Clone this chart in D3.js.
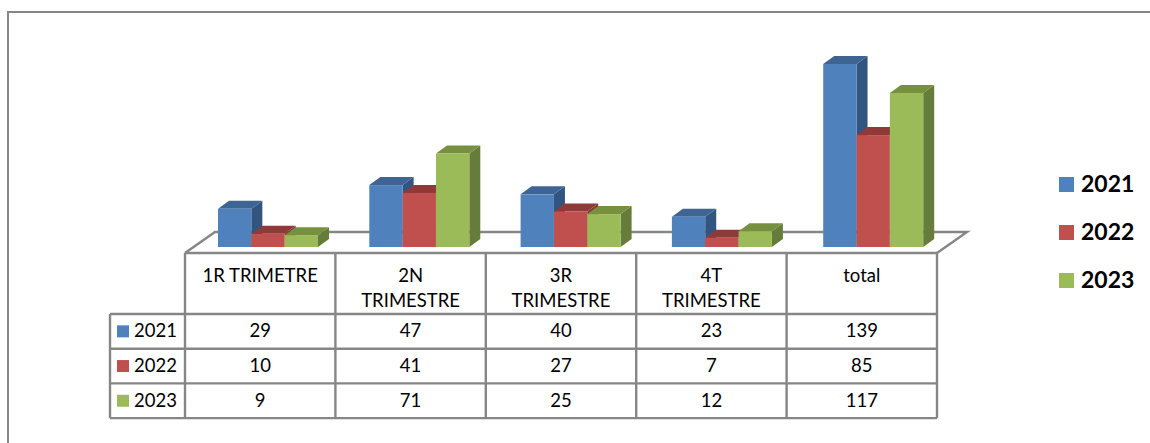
<!DOCTYPE html>
<html>
<head>
<meta charset="utf-8">
<script src="https://cdn.jsdelivr.net/npm/d3@7"></script>
<style>
    html, body { margin: 0; padding: 0; background: #fff; }
    svg { display: block; }
    text { font-family: Lato, sans-serif; fill: #000; }
</style>
</head>
<body>
<svg id="chart" width="1150" height="443"></svg>
<script>
const categories = ["1R TRIMETRE", "2N TRIMESTRE", "3R TRIMESTRE", "4T TRIMESTRE", "total"];
const headerLines = [["1R TRIMETRE"], ["2N", "TRIMESTRE"], ["3R", "TRIMESTRE"], ["4T", "TRIMESTRE"], ["total"]];
const years = ["2021", "2022", "2023"];
const values2021 = [29, 47, 40, 23, 139];
const values2022 = [10, 41, 27, 7, 85];
const values2023 = [9, 71, 25, 12, 117];
const allValues = [values2021, values2022, values2023];

const colors = ["#4F81BD", "#C0504D", "#9BBB59"];
const topColors = ["#3E6494", "#8F3A38", "#76903F"];
const sideColors = ["#31557F", "#8C3634", "#667C3A"];
const gridColor = "#868686";

const svg = d3.select("#chart");

// layout of the plot and its data table
const tableLeft = 185, tableRight = 937;
const headerTop = 253, rowsTop = 314, rowHeight = 34.7;
const baseY = 247, topY = 64;
const depthX = 11, depthY = 8;
const floorX = 30, floorY = 21;

const x0 = d3.scaleBand().domain(categories).range([tableLeft, tableRight]);
// bars run a little wider than the table columns in the reference
const xBars = d3.scaleBand().domain(categories).range([tableLeft, 941.5]);
const x1 = d3.scaleBand().domain(years).range([33, 133]);
const y = d3.scaleLinear().domain([0, 139]).range([baseY, topY]);
const rowY = d3.scaleBand().domain(years).range([rowsTop, rowsTop + rowHeight * 3]);

// outer frame
svg.append("path")
    .attr("d", "M8,443V12H1150")
    .attr("fill", "none")
    .attr("stroke", gridColor)
    .attr("stroke-width", 2);

// floor of the 3D plot
svg.append("path")
    .attr("d", `M${tableLeft},${headerTop}L${tableLeft + floorX},${headerTop - floorY}H${tableRight + floorX}L${tableRight},${headerTop}`)
    .attr("fill", "none")
    .attr("stroke", gridColor)
    .attr("stroke-width", 2.4);

// bars, left to right so each front covers the side of the one before
categories.forEach((cat, c) => {
    const g = svg.append("g").attr("transform", `translate(${xBars(cat)},0)`);
    years.forEach((year, s) => {
        const v = allValues[s][c];
        const left = x1(year), right = left + x1.bandwidth();
        g.append("polygon")
            .attr("points", [[right, y(v)], [right + depthX, y(v) - depthY], [right + depthX, y(0) - depthY], [right, y(0)]].join(" "))
            .attr("fill", sideColors[s]);
        g.append("polygon")
            .attr("points", [[left, y(v)], [left + depthX, y(v) - depthY], [right + depthX, y(v) - depthY], [right, y(v)]].join(" "))
            .attr("fill", topColors[s]);
        g.append("rect")
            .attr("x", left)
            .attr("y", y(v))
            .attr("width", x1.bandwidth())
            .attr("height", y(0) - y(v))
            .attr("fill", colors[s]);
    });
});

// data table grid
const tableBottom = rowsTop + rowHeight * 3;
const grid = svg.append("g").attr("stroke", gridColor).attr("stroke-width", 2.4);
grid.append("line").attr("x1", tableLeft).attr("x2", tableRight).attr("y1", headerTop).attr("y2", headerTop);
[0, 1, 2, 3].forEach((i) => {
    grid.append("line")
        .attr("x1", 110).attr("x2", tableRight)
        .attr("y1", rowsTop + rowHeight * i).attr("y2", rowsTop + rowHeight * i);
});
categories.forEach((cat) => {
    grid.append("line").attr("x1", x0(cat)).attr("x2", x0(cat)).attr("y1", headerTop).attr("y2", tableBottom);
});
grid.append("line").attr("x1", tableRight).attr("x2", tableRight).attr("y1", headerTop).attr("y2", tableBottom);
grid.append("line").attr("x1", 110).attr("x2", 110).attr("y1", rowsTop).attr("y2", tableBottom);

// column headers
categories.forEach((cat, c) => {
    headerLines[c].forEach((line, l) => {
        svg.append("text")
            .attr("x", x0(cat) + x0.bandwidth() / 2)
            .attr("y", 282 + l * 25)
            .attr("text-anchor", "middle")
            .attr("font-size", 18.5)
            .text(line);
    });
});

// row labels and values
years.forEach((year, s) => {
    const cy = rowY(year) + rowY.bandwidth() / 2;
    svg.append("rect")
        .attr("x", 117).attr("y", cy - 6)
        .attr("width", 12).attr("height", 12)
        .attr("fill", colors[s]);
    svg.append("text")
        .attr("x", 134).attr("y", cy + 6)
        .attr("font-size", 18.5)
        .text(year);
    categories.forEach((cat, c) => {
        svg.append("text")
            .attr("x", x0(cat) + x0.bandwidth() / 2)
            .attr("y", cy + 6)
            .attr("text-anchor", "middle")
            .attr("font-size", 18.5)
            .text(allValues[s][c]);
    });
});

// legend
years.forEach((year, s) => {
    const ly = 184.5 + s * 48;
    svg.append("rect")
        .attr("x", 1059).attr("y", ly - 7.5)
        .attr("width", 15).attr("height", 15)
        .attr("fill", colors[s]);
    svg.append("text")
        .attr("x", 1081).attr("y", ly + 7.5)
        .attr("font-size", 23)
        .attr("font-weight", "bold")
        .text(year);
});
</script>
</body>
</html>
